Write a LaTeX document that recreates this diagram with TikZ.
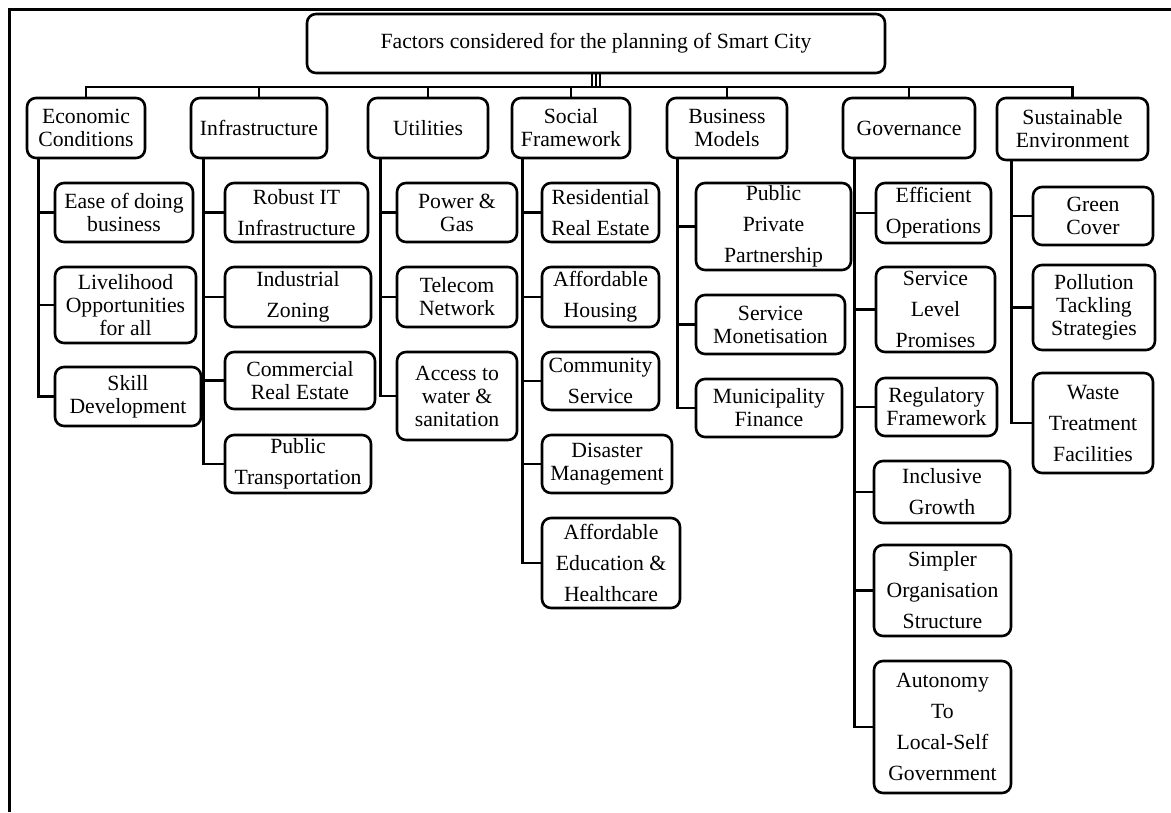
\documentclass[tikz,border=0pt]{standalone}
\usepackage{fontspec}
\setmainfont{Liberation Serif}
% \boxnode[opts]{x1}{y1}{x2}{y2}{name}{text}: rounded box given by its corners
\newcommand\boxnode[7][]{%
  \node[box,#1,minimum width={(#4-#2)*1pt},minimum height={(#5-#3)*1pt}]
    (#6) at ({(#2+#4)/2},{(#3+#5)/2}) {#7};}
\begin{document}
\begin{tikzpicture}[x=1pt,y=-1pt,
  box/.style={draw, line width=2.6pt, rounded corners=9pt, align=center,
    inner sep=0pt, font=\fontsize{21.7}{23}\selectfont},
  loose/.style={font=\fontsize{21.7}{31}\selectfont},
  link/.style={line width=2.6pt},
  thinlink/.style={line width=1.8pt},
  frame/.style={line width=3.2pt},
]
\useasboundingbox (0,0) rectangle (1171,812);

% outer frame (left and top only)
\draw[frame] (9.5,812) -- (9.5,9.5) -- (1171,9.5);

% root
\boxnode{307}{14}{885}{73}{root}{Factors considered for the planning of Smart City}

% categories
\boxnode{27}{98}{145}{158}{eco}{Economic\\Conditions}
\boxnode{191}{98}{327}{158}{infra}{Infrastructure}
\boxnode{368}{98}{488}{158}{util}{Utilities}
\boxnode{512}{98}{630}{158}{social}{Social\\Framework}
\boxnode{667}{98}{787}{158}{biz}{Business\\Models}
\boxnode{843}{98}{975}{158}{gov}{Governance}
\boxnode{997}{98}{1148}{160}{sus}{Sustainable\\Environment}

% economic conditions
\boxnode{55}{183}{193}{242}{ease}{Ease of doing\\business}
\boxnode{55}{267}{196}{343}{live}{Livelihood\\Opportunities\\for all}
\boxnode{55}{367}{201}{426}{skill}{Skill\\Development}

% infrastructure
\boxnode[loose]{225}{183}{368}{242}{robust}{Robust IT\\Infrastructure}
\boxnode[loose]{225}{267}{371}{327}{indus}{Industrial\\Zoning}
\boxnode{225}{352}{375}{409}{comm}{Commercial\\Real Estate}
\boxnode[loose]{225}{435}{371}{493}{trans}{Public\\Transportation}

% utilities
\boxnode{397}{183}{517}{242}{power}{Power \&\\Gas}
\boxnode{397}{267}{517}{327}{tele}{Telecom\\Network}
\boxnode{397}{352}{517}{440}{water}{Access to\\water \&\\sanitation}

% social framework
\boxnode[loose]{542}{183}{659}{242}{resid}{Residential\\Real Estate}
\boxnode[loose]{542}{267}{659}{327}{house}{Affordable\\Housing}
\boxnode[loose]{542}{352}{659}{410}{commu}{Community\\Service}
\boxnode{542}{435}{672}{493}{disas}{Disaster\\Management}
\boxnode[loose]{542}{518}{680}{608}{edu}{Affordable\\Education \&\\Healthcare}

% business models
\boxnode[loose]{696}{183}{851}{270}{ppp}{Public\\Private\\Partnership}
\boxnode{696}{295}{845}{354}{monet}{Service\\Monetisation}
\boxnode{696}{379}{842}{437}{muni}{Municipality\\Finance}

% governance
\boxnode[loose]{876}{183}{991}{243}{effic}{Efficient\\Operations}
\boxnode[loose]{876}{267}{995}{352}{level}{Service\\Level\\Promises}
\boxnode{876}{378}{997}{436}{regul}{Regulatory\\Framework}
\boxnode[loose]{874}{461}{1010}{523}{incl}{Inclusive\\Growth}
\boxnode[loose]{874}{545}{1011}{636}{simpl}{Simpler\\Organisation\\Structure}
\boxnode[loose]{874}{661}{1011}{793}{auto}{Autonomy\\To\\Local-Self\\Government}

% sustainable environment
\boxnode{1033}{187}{1153}{245}{green}{Green\\Cover}
\boxnode{1033}{265}{1155}{350}{pollu}{Pollution\\Tackling\\Strategies}
\boxnode[loose]{1033}{373}{1153}{473}{waste}{Waste\\Treatment\\Facilities}

% bus from the root to the categories
\coordinate (bus) at (596,87);
\foreach \dx in {-4,0,4}
  \draw[thinlink] ([xshift=\dx pt]root.south) -- ([xshift=\dx pt]root.south |- bus);
\draw[link] (eco.north) |- (bus) -| (sus.north);
\foreach \c in {infra,util,social,biz,gov}
  \draw[link] (\c.north) -- (\c.north |- bus);

% trunks from each category to its items
\foreach \p/\dx/\kids in {eco/13/{ease,live,skill},
                          infra/14/{robust,indus,comm,trans},
                          util/14/{power,tele,water},
                          social/12/{resid,house,commu,disas,edu},
                          biz/12/{ppp,monet,muni},
                          gov/13/{effic,level,regul,incl,simpl,auto},
                          sus/16/{green,pollu,waste}}
  \foreach \k in \kids
    \draw[link] ([xshift=\dx pt]\p.south west) |- (\k.west);
\end{tikzpicture}
\end{document}
